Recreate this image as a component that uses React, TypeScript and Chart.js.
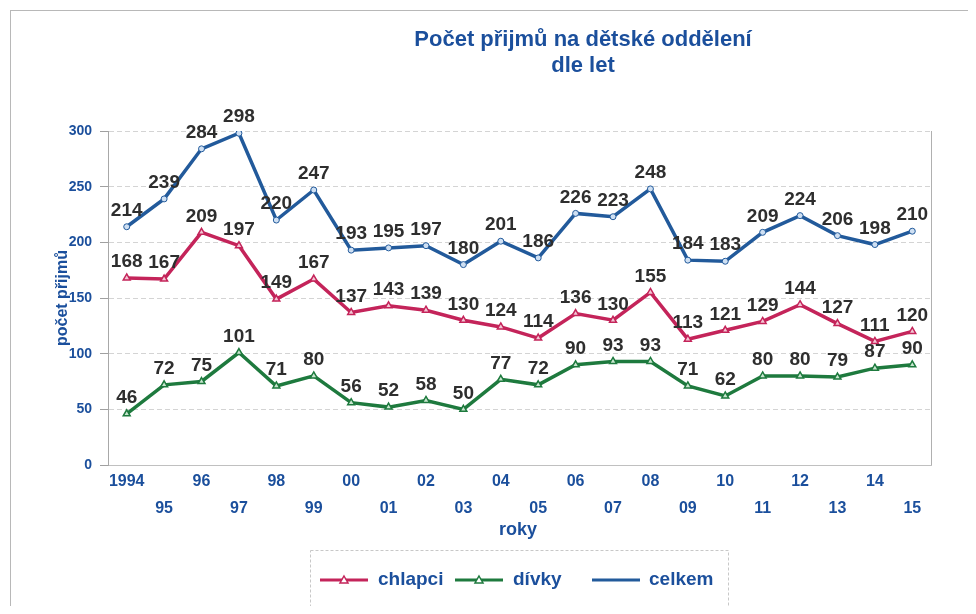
import React, { useEffect, useRef } from 'react';
import { Chart, registerables } from 'chart.js';

Chart.register(...registerables);

const years = ['1994', '95', '96', '97', '98', '99', '00', '01', '02', '03', '04', '05', '06', '07', '08', '09', '10', '11', '12', '13', '14', '15'];
const chlapci = [168, 167, 209, 197, 149, 167, 137, 143, 139, 130, 124, 114, 136, 130, 155, 113, 121, 129, 144, 127, 111, 120];
const divky = [46, 72, 75, 101, 71, 80, 56, 52, 58, 50, 77, 72, 90, 93, 93, 71, 62, 80, 80, 79, 87, 90];
const celkem = [214, 239, 284, 298, 220, 247, 193, 195, 197, 180, 201, 186, 226, 223, 248, 184, 183, 209, 224, 206, 198, 210];
const yMin = 0;
const yMax = 300;
const yStep = 50;
const titleLines = ['Počet přijmů na dětské oddělení', 'dle let'];
const xTitle = 'roky';
const yTitle = 'počet přijmů';
const seriesNames = ['chlapci', 'dívky', 'celkem'];

const W = 960;
const H = 598;
const FONT = "'Liberation Sans', Arial, sans-serif";
const BLUE_TEXT = '#1b4f9c';
const C_CHL = '#c4245a';
const C_DIV = '#1e7a3e';
const C_CEL = '#225a9b';

const overlayPlugin = {
  id: 'overlay',
  afterDatasetsDraw(chart: any) {
    const ctx = chart.ctx;
    ctx.save();
    ctx.font = `bold 19px ${FONT}`;
    ctx.fillStyle = '#2e2e2e';
    ctx.textAlign = 'center';
    ctx.textBaseline = 'middle';
    chart.data.datasets.forEach((ds: any, i: number) => {
      const meta = chart.getDatasetMeta(i);
      meta.data.forEach((pt: any, j: number) => {
        ctx.fillText(String(ds.data[j]), pt.x, pt.y - 16);
      });
    });
    ctx.restore();
  },
  afterDraw(chart: any) {
    const ctx = chart.ctx;
    const a = chart.chartArea;
    ctx.save();
    // outer frame
    ctx.strokeStyle = '#b8b8b8';
    ctx.lineWidth = 1;
    ctx.strokeRect(2.5, 2.5, W + 10, H + 10);
    // right plot border
    ctx.strokeStyle = '#b0b0b0';
    ctx.beginPath();
    ctx.moveTo(a.right + 0.5, a.top);
    ctx.lineTo(a.right + 0.5, a.bottom);
    ctx.stroke();
    // title
    ctx.fillStyle = BLUE_TEXT;
    ctx.textAlign = 'center';
    ctx.textBaseline = 'middle';
    ctx.font = `bold 22px ${FONT}`;
    ctx.fillText(titleLines[0], 575, 32);
    ctx.fillText(titleLines[1], 575, 58);
    // x title
    ctx.font = `bold 18px ${FONT}`;
    ctx.fillText(xTitle, 510, 522);
    // y title
    ctx.save();
    ctx.translate(55, (a.top + a.bottom) / 2);
    ctx.rotate(-Math.PI / 2);
    ctx.font = `bold 16px ${FONT}`;
    ctx.fillText(yTitle, 0, 0);
    ctx.restore();
    // legend
    const lx = 302, ly = 542, lw = 418, lh = 58;
    ctx.strokeStyle = '#c8c8c8';
    ctx.setLineDash([3, 2]);
    ctx.strokeRect(lx + 0.5, ly + 0.5, lw, lh);
    ctx.setLineDash([]);
    const cy = 572;
    const items = [
      { name: seriesNames[0], color: C_CHL, x1: 312, x2: 360, tx: 370, marker: true },
      { name: seriesNames[1], color: C_DIV, x1: 447, x2: 495, tx: 505, marker: true },
      { name: seriesNames[2], color: C_CEL, x1: 584, x2: 632, tx: 641, marker: false },
    ];
    items.forEach((it) => {
      ctx.strokeStyle = it.color;
      ctx.lineWidth = 3;
      ctx.beginPath();
      ctx.moveTo(it.x1, cy);
      ctx.lineTo(it.x2, cy);
      ctx.stroke();
      if (it.marker) {
        const mx = (it.x1 + it.x2) / 2;
        ctx.fillStyle = '#ffffff';
        ctx.lineWidth = 1.5;
        ctx.beginPath();
        ctx.moveTo(mx, cy - 4);
        ctx.lineTo(mx + 4, cy + 3);
        ctx.lineTo(mx - 4, cy + 3);
        ctx.closePath();
        ctx.fill();
        ctx.stroke();
      }
      ctx.fillStyle = BLUE_TEXT;
      ctx.font = `bold 19px ${FONT}`;
      ctx.textAlign = 'left';
      ctx.textBaseline = 'middle';
      ctx.fillText(it.name, it.tx, cy);
    });
    ctx.restore();
  },
};

export default function App() {
  const ref = useRef<HTMLCanvasElement | null>(null);
  useEffect(() => {
    if (!ref.current) return;
    const chart = new Chart(ref.current, {
      type: 'line',
      data: {
        labels: years,
        datasets: [
          {
            label: seriesNames[0],
            data: chlapci,
            borderColor: C_CHL,
            backgroundColor: '#f3c6d4',
            borderWidth: 3.5,
            pointStyle: 'triangle',
            pointRadius: 4,
            pointBorderWidth: 1.5,
            tension: 0,
          },
          {
            label: seriesNames[1],
            data: divky,
            borderColor: C_DIV,
            backgroundColor: '#c8e6cf',
            borderWidth: 3.5,
            pointStyle: 'triangle',
            pointRadius: 4,
            pointBorderWidth: 1.5,
            tension: 0,
          },
          {
            label: seriesNames[2],
            data: celkem,
            borderColor: C_CEL,
            backgroundColor: '#cfe0f3',
            borderWidth: 3.5,
            pointStyle: 'circle',
            pointRadius: 3,
            pointBorderWidth: 1,
            tension: 0,
          },
        ],
      },
      options: {
        animation: false,
        responsive: false,
        devicePixelRatio: 1,
        layout: { padding: { left: 0, right: 37, top: 123, bottom: 0 } },
        plugins: {
          legend: { display: false },
          title: { display: false },
          tooltip: { enabled: false },
        },
        scales: {
          x: {
            type: 'category',
            offset: true,
            grid: { display: false, drawTicks: false },
            border: { display: true, color: '#c0c0c0', width: 1 },
            ticks: {
              autoSkip: false,
              maxRotation: 0,
              minRotation: 0,
              padding: 3,
              color: BLUE_TEXT,
              font: { family: FONT, size: 16, weight: 'bold', lineHeight: 1.6875 },
              callback: (_v: any, i: number) => (i % 2 === 1 ? ['', years[i]] : years[i]),
            },
            afterFit: (s: any) => {
              s.height = 141;
            },
          },
          y: {
            min: yMin,
            max: yMax,
            ticks: {
              stepSize: yStep,
              padding: 8,
              color: BLUE_TEXT,
              font: { family: FONT, size: 14, weight: 'bold' },
            },
            grid: { color: '#d4d4d4', tickColor: '#a0a0a0', tickLength: 8, lineWidth: 1 },
            border: { display: true, color: '#a8a8a8', width: 1, dash: [5, 3] },
            afterFit: (s: any) => {
              s.width = 100;
            },
          },
        },
      },
      plugins: [overlayPlugin],
    } as any);
    return () => chart.destroy();
  }, []);
  return (
    <div style={{ width: W, height: H }}>
      <canvas ref={ref} width={W} height={H} style={{ width: W, height: H, display: 'block' }} />
    </div>
  );
}
